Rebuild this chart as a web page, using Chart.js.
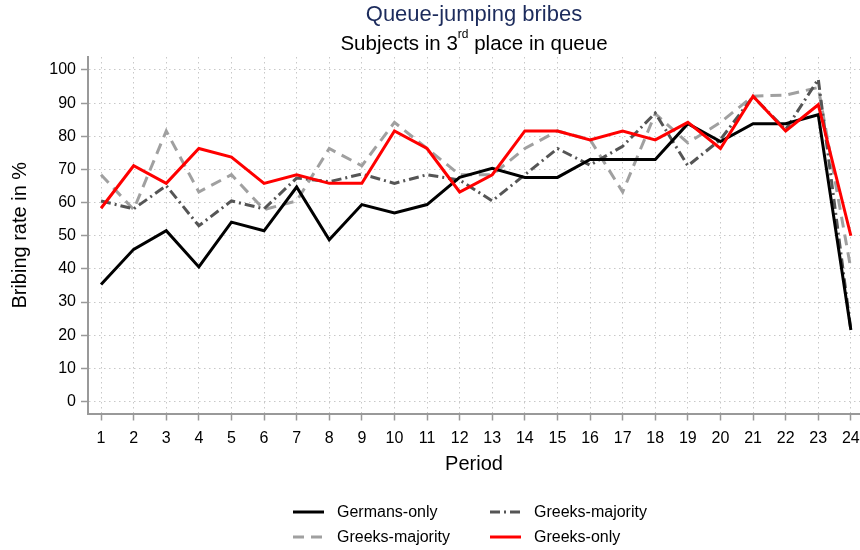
<!DOCTYPE html>
<html>
<head>
<meta charset="utf-8">
<script src="https://cdn.jsdelivr.net/npm/chart.js@4/dist/chart.umd.min.js"></script>
<style>
  body { margin: 0; background: #fff; }
  canvas { display: block; }
</style>
</head>
<body>
<canvas id="bribeChart" width="860" height="550"></canvas>
<script>
// periods and bribing rates (%)
const periods = [1, 2, 3, 4, 5, 6, 7, 8, 9, 10, 11, 12, 13, 14, 15, 16, 17, 18, 19, 20, 21, 22, 23, 24];
const germansOnly = [35.3, 45.9, 51.5, 40.6, 54.1, 51.5, 64.7, 48.8, 59.4, 56.9, 59.4, 67.6, 70.3, 67.6, 67.6, 73.0, 73.0, 73.0, 83.8, 78.4, 83.8, 83.8, 86.5, 21.6];
const greeksMajorityDashDot = [60.5, 58.1, 65.1, 53.0, 60.5, 58.1, 67.4, 66.3, 68.6, 65.8, 68.4, 66.8, 60.5, 68.4, 76.3, 71.3, 77.0, 87.0, 71.1, 79.0, 92.0, 82.0, 97.2, 21.6];
const greeksMajorityDashed = [68.4, 57.9, 81.6, 63.2, 68.4, 57.9, 60.5, 76.3, 71.1, 84.2, 76.3, 68.4, 68.4, 76.3, 81.6, 79.0, 63.2, 86.8, 78.0, 84.2, 92.1, 92.4, 94.7, 40.0];
const greeksOnly = [58.3, 71.1, 65.8, 76.3, 73.7, 65.8, 68.4, 65.8, 65.8, 81.6, 76.3, 63.2, 68.4, 81.6, 81.6, 78.9, 81.6, 78.9, 84.2, 76.3, 92.1, 81.6, 89.5, 50.0];
const yTicks = [0, 10, 20, 30, 40, 50, 60, 70, 80, 90, 100];

const toPoints = vals => periods.map((p, i) => ({ x: p, y: vals[i] }));
const FONT = "'Liberation Sans', Arial, sans-serif";

// titles + two-column legend drawn on the canvas
const decorPlugin = {
  id: "decor",
  afterDraw(chart) {
    const ctx = chart.ctx;
    const cx = (chart.chartArea.left + chart.chartArea.right) / 2;
    ctx.save();
    ctx.textBaseline = "middle";

    ctx.fillStyle = "#1c2b5c";
    ctx.font = "22px " + FONT;
    ctx.textAlign = "center";
    ctx.fillText("Queue-jumping bribes", cx, 15);

    // subtitle with superscript "rd"
    const a = "Subjects in 3", sup = "rd", b = " place in queue";
    ctx.fillStyle = "#000";
    ctx.font = "20.5px " + FONT;
    const wa = ctx.measureText(a).width, wb = ctx.measureText(b).width;
    ctx.font = "12px " + FONT;
    const ws = ctx.measureText(sup).width;
    let x = cx - (wa + ws + wb) / 2;
    ctx.textAlign = "left";
    ctx.font = "20.5px " + FONT;
    ctx.fillText(a, x, 44);
    x += wa;
    ctx.font = "12px " + FONT;
    ctx.fillText(sup, x, 35);
    x += ws;
    ctx.font = "20.5px " + FONT;
    ctx.fillText(b, x, 44);

    // legend
    const cols = [293, 490];
    const rows = [512, 537];
    ctx.font = "16px " + FONT;
    chart.data.datasets.forEach((ds, i) => {
      const lx = cols[i % 2];
      const ly = rows[Math.floor(i / 2)];
      ctx.beginPath();
      ctx.setLineDash(ds.borderDash || []);
      ctx.lineWidth = ds.borderWidth;
      ctx.strokeStyle = ds.borderColor;
      ctx.moveTo(lx, ly);
      ctx.lineTo(lx + 31, ly);
      ctx.stroke();
      ctx.setLineDash([]);
      ctx.fillStyle = "#000";
      ctx.fillText(ds.label, lx + 44, ly + 1);
    });
    ctx.restore();
  }
};

new Chart(document.getElementById("bribeChart"), {
  type: "line",
  data: {
    datasets: [
      {
        label: "Germans-only",
        data: toPoints(germansOnly),
        borderColor: "#000000",
        borderWidth: 3,
        order: 1
      },
      {
        label: "Greeks-majority",
        data: toPoints(greeksMajorityDashDot),
        borderColor: "#555555",
        borderWidth: 3,
        borderDash: [10, 4, 2, 4],
        order: 2
      },
      {
        label: "Greeks-majority",
        data: toPoints(greeksMajorityDashed),
        borderColor: "#a0a0a0",
        borderWidth: 3,
        borderDash: [11, 7],
        order: 3
      },
      {
        label: "Greeks-only",
        data: toPoints(greeksOnly),
        borderColor: "#ff0000",
        borderWidth: 3,
        order: 0
      }
    ]
  },
  plugins: [decorPlugin],
  options: {
    responsive: false,
    animation: false,
    layout: { padding: { top: 57, right: 0, bottom: 71, left: 0 } },
    elements: {
      point: { radius: 0 },
      line: { tension: 0, fill: false, borderCapStyle: "butt" }
    },
    plugins: {
      legend: { display: false },
      title: { display: false },
      tooltip: { enabled: false }
    },
    scales: {
      x: {
        type: "linear",
        min: 0.6,
        max: 24.28,
        afterFit: scale => {
          scale.height = 65.5;
          scale.paddingLeft = 0;
          scale.paddingRight = 0;
        },
        ticks: {
          stepSize: 1,
          includeBounds: false,
          autoSkip: false,
          maxRotation: 0,
          padding: 8,
          color: "#000",
          font: { family: FONT, size: 16 }
        },
        grid: {
          color: "#c8c8c8",
          lineWidth: 1,
          tickLength: 7,
          tickColor: "#999",
          tickWidth: 1.5
        },
        border: { color: "#999", width: 2, dash: [1.5, 3.5] },
        title: {
          display: true,
          text: "Period",
          color: "#000",
          font: { family: FONT, size: 20 },
          padding: { top: 4, bottom: 3 }
        }
      },
      y: {
        min: -3.6,
        max: 103.9,
        afterFit: scale => { scale.width = 88; },
        afterBuildTicks: scale => {
          scale.ticks = yTicks.map(v => ({ value: v }));
        },
        ticks: {
          stepSize: 10,
          includeBounds: false,
          padding: 5,
          color: "#000",
          font: { family: FONT, size: 16 }
        },
        grid: {
          color: "#c8c8c8",
          lineWidth: 1,
          tickLength: 7,
          tickColor: "#999",
          tickWidth: 1.5
        },
        border: { color: "#999", width: 2, dash: [1.5, 3.5] },
        title: {
          display: true,
          text: "Bribing rate in %",
          color: "#000",
          font: { family: FONT, size: 20 },
          padding: { top: 8, bottom: 4 }
        }
      }
    }
  }
});
</script>
</body>
</html>
